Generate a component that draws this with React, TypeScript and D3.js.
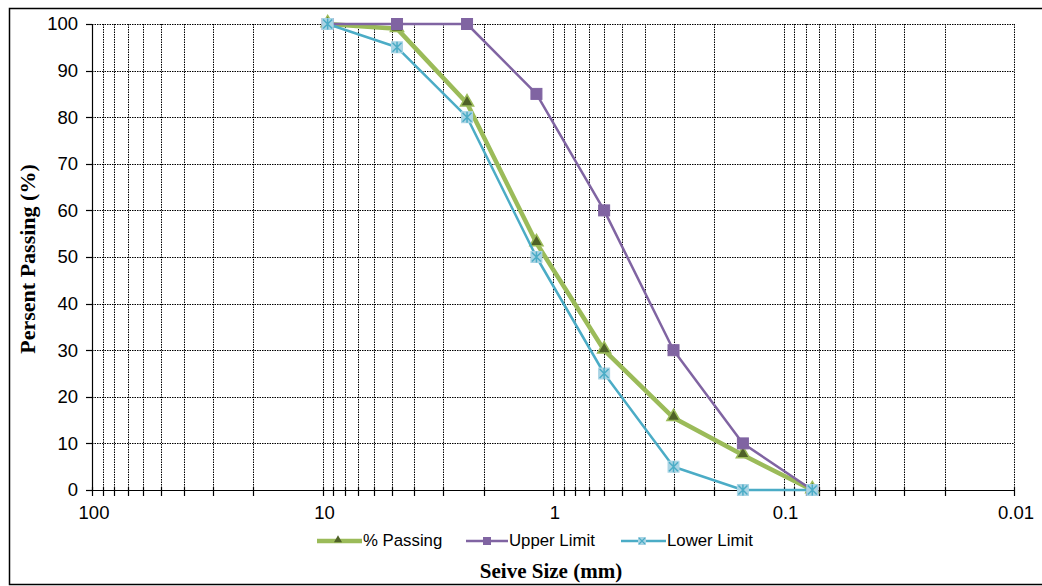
import React from 'react';
import * as d3 from 'd3';

const sieveSizes = [9.5, 4.75, 2.36, 1.18, 0.6, 0.3, 0.15, 0.075];
const percentPassing = [100, 99, 83, 53, 30, 15.5, 7.5, 0];
const upperLimit = [100, 100, 100, 85, 60, 30, 10, 0];
const lowerLimit = [100, 95, 80, 50, 25, 5, 0, 0];
const xTickLabels = [100, 10, 1, 0.1, 0.01];
const yTickValues = [0, 10, 20, 30, 40, 50, 60, 70, 80, 90, 100];

const W = 1042;
const H = 586;
const margin = { left: 92, top: 24, right: 28, bottom: 96 };

const App = () => {
  const x = d3.scaleLog().domain([100, 0.01]).range([margin.left, W - margin.right]);
  const y = d3.scaleLinear().domain([0, 100]).range([H - margin.bottom, margin.top]);

  // minor grid values 2..9 in each decade
  const minor: number[] = [];
  [10, 1, 0.1, 0.01].forEach(d => {
    for (let k = 2; k <= 9; k++) minor.push(d * k);
  });

  const line = d3.line<[number, number]>()
    .x(d => x(d[0]))
    .y(d => y(d[1]));

  const pts = (vals: number[]) => sieveSizes.map((s, i) => [s, vals[i]] as [number, number]);

  const tri = d3.symbol().type(d3.symbolTriangle).size(75)();
  const x0 = margin.left, x1 = W - margin.right, y0 = H - margin.bottom, y1 = margin.top;
  const sans = "'Liberation Sans', Arial, sans-serif";
  const serif = "'Liberation Serif', 'Times New Roman', serif";

  return (
    <svg width={W} height={H} style={{ position: 'absolute', left: 0, top: 0, background: '#fff' }}>
      <rect x={9.5} y={8.5} width={1040} height={576} fill="#fff" stroke="#000" strokeWidth={1.5} />

      {/* grid */}
      <g stroke="#000" strokeWidth={1} strokeDasharray="1.5,1">
        {yTickValues.slice(1).map(v => (
          <line key={'gy' + v} x1={x0} x2={x1} y1={Math.round(y(v)) + 0.5} y2={Math.round(y(v)) + 0.5} />
        ))}
        {minor.concat(xTickLabels.slice(1)).map(v => (
          <line key={'gx' + v} x1={Math.round(x(v)) + 0.5} x2={Math.round(x(v)) + 0.5} y1={y1} y2={y0} />
        ))}
      </g>

      {/* axes */}
      <g stroke="#000" strokeWidth={1.2}>
        <line x1={x0} x2={x1} y1={y0 + 0.5} y2={y0 + 0.5} />
        <line x1={x0 + 0.5} x2={x0 + 0.5} y1={y1} y2={y0} />
        {yTickValues.map(v => (
          <line key={'ty' + v} x1={x0 - 6} x2={x0} y1={Math.round(y(v)) + 0.5} y2={Math.round(y(v)) + 0.5} />
        ))}
        {minor.concat(xTickLabels).map(v => (
          <line key={'tx' + v} x1={Math.round(x(v)) + 0.5} x2={Math.round(x(v)) + 0.5} y1={y0 - 3} y2={y0 + 6} />
        ))}
      </g>

      {/* tick labels */}
      <g fontFamily={sans} fontSize={18.5} fill="#000">
        {yTickValues.map(v => (
          <text key={'ly' + v} x={x0 - 14} y={y(v)} dy="0.35em" textAnchor="end">{v}</text>
        ))}
        {xTickLabels.map(v => (
          <text key={'lx' + v} x={x(v) + 2} y={y0 + 29} textAnchor="middle">{v}</text>
        ))}
      </g>

      {/* series */}
      <path d={line(pts(percentPassing)) || ''} fill="none" stroke="#9BBB59" strokeWidth={4.5} strokeLinejoin="round" />
      {pts(percentPassing).map((p, i) => (
        <path key={'mp' + i} d={tri || ''} transform={`translate(${x(p[0])},${y(p[1]) - 1})`}
          fill="#4F6228" stroke="#9BBB59" strokeWidth={1.5} />
      ))}

      <path d={line(pts(upperLimit)) || ''} fill="none" stroke="#8064A2" strokeWidth={2.5} strokeLinejoin="round" />
      {pts(upperLimit).map((p, i) => (
        <rect key={'mu' + i} x={x(p[0]) - 5.5} y={y(p[1]) - 5.5} width={11} height={11} fill="#8064A2" stroke="#8064A2" />
      ))}

      <path d={line(pts(lowerLimit)) || ''} fill="none" stroke="#4BACC6" strokeWidth={2.5} strokeLinejoin="round" />
      {pts(lowerLimit).map((p, i) => {
        const cx = x(p[0]), cy = y(p[1]);
        return (
          <g key={'ml' + i}>
            <rect x={cx - 5.5} y={cy - 5.5} width={11} height={11} fill="#A9D4E4" stroke="#A9D4E4" />
            <path d={`M${cx - 4.5},${cy - 4.5}L${cx + 4.5},${cy + 4.5}M${cx - 4.5},${cy + 4.5}L${cx + 4.5},${cy - 4.5}M${cx},${cy - 5.5}L${cx},${cy + 5.5}`}
              stroke="#4BACC6" strokeWidth={1.5} />
          </g>
        );
      })}

      {/* legend */}
      <g fontFamily={sans} fontSize={16.8} fill="#000">
        <line x1={317} x2={362} y1={541} y2={541} stroke="#9BBB59" strokeWidth={4.5} />
        <path d={d3.symbol().type(d3.symbolTriangle).size(28)() || ''} transform="translate(338,540)" fill="#4F6228" />
        <text x={363} y={540} dy="0.35em">% Passing</text>

        <line x1={466} x2={508} y1={541} y2={541} stroke="#8064A2" strokeWidth={2.5} />
        <rect x={483} y={537} width={8} height={8} fill="#8064A2" />
        <text x={509} y={540} dy="0.35em">Upper Limit</text>

        <line x1={621} x2={666} y1={541} y2={541} stroke="#4BACC6" strokeWidth={2.5} />
        <rect x={638} y={537} width={8} height={8} fill="#A9D4E4" />
        <path d="M639,538L645,544M639,544L645,538" stroke="#4BACC6" strokeWidth={1.2} />
        <text x={667} y={540} dy="0.35em">Lower Limit</text>
      </g>

      {/* axis titles */}
      <text x={551} y={578} textAnchor="middle" fontFamily={serif} fontWeight="bold" fontSize={21}>Seive Size (mm)</text>
      <text transform={`translate(35,259) rotate(-90)`} textAnchor="middle"
        fontFamily={serif} fontWeight="bold" fontSize={22}>Persent Passing (%)</text>
    </svg>
  );
};

export default App;
